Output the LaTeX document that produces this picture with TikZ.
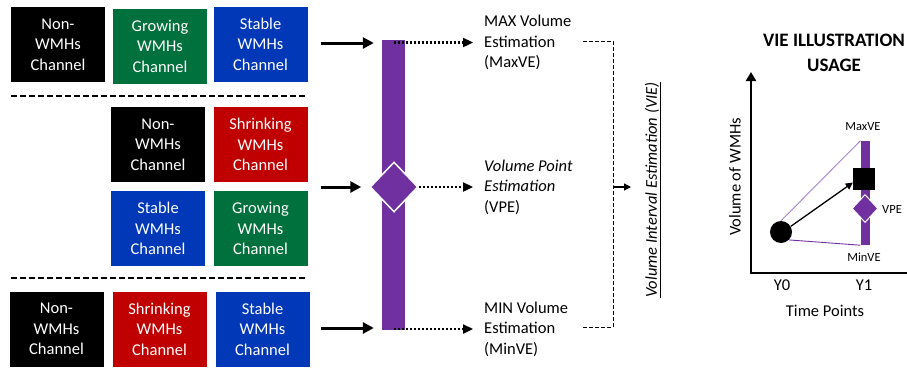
\documentclass[tikz,border=0pt]{standalone}
\usepackage{fontspec}
\setmainfont{Carlito}
\usepackage{xcolor}
\usepackage{tikz}
\usetikzlibrary{positioning, shapes.geometric, arrows.meta}
\definecolor{wmhgreen}{HTML}{00703C}
\definecolor{wmhblue}{HTML}{0038B8}
\definecolor{wmhred}{HTML}{C00000}
\definecolor{viepurple}{HTML}{7030A0}
\definecolor{lightpurple}{HTML}{A683CF}

\begin{document}
\begin{tikzpicture}[x=1pt,y=-1pt]
						\useasboundingbox (0,0) rectangle (907,367);
						\tikzstyle{chan}=[rectangle, minimum width=94pt, minimum height=75pt, inner sep=0pt, text=white, align=center, font=\fontsize{16.5}{20.5}\selectfont]
						\tikzstyle{feed}=[line width=3pt, -{Triangle[length=11pt,width=11pt]}, shorten >=8pt]
						\tikzstyle{est}=[line width=2.3pt, dash pattern=on 2pt off 2pt, -{Triangle[length=10pt,width=9pt]}]
						\tikzstyle{estim}=[anchor=west, inner xsep=11pt, align=left, font=\fontsize{16.5}{20.5}\selectfont]
						\tikzstyle{sep}=[line width=2pt, dash pattern=on 6pt off 3pt]
						\tikzstyle{small}=[font=\fontsize{12.5}{14}\selectfont]
						\tikzstyle{lab}=[font=\fontsize{16.5}{19}\selectfont]
						% input channels, one group per row
						\node[chan, fill=black](nw1) at (58,44.5) {Non-\\WMHs\\Channel};
						\node[chan, fill=wmhgreen](gw1) at (160,46) {Growing\\WMHs\\Channel};
						\node[chan, fill=wmhblue](st1) at (260.5,44) {Stable\\WMHs\\Channel};
						\node[chan, fill=black](nw2) at (158,144.5) {Non-\\WMHs\\Channel};
						\node[chan, fill=wmhred](sh2) at (260.5,144.5) {Shrinking\\WMHs\\Channel};
						\node[chan, fill=wmhblue](st2) at (158,228.5) {Stable\\WMHs\\Channel};
						\node[chan, fill=wmhgreen](gw2) at (260.5,228.5) {Growing\\WMHs\\Channel};
						\node[chan, fill=black](nw3) at (56.5,329) {Non-\\WMHs\\Channel};
						\node[chan, fill=wmhred](sh3) at (159.5,329) {Shrinking\\WMHs\\Channel};
						\node[chan, fill=wmhblue](st3) at (262.5,329) {Stable\\WMHs\\Channel};
						\draw[sep] (11,96) -- (307,96);
						\draw[sep] (11,278) -- (307,278);
						% estimation bar and point
						\node[rectangle, fill=viepurple, minimum width=23pt, minimum height=290pt, inner sep=0pt](bar) at (393.5,185) {};
						\node[diamond, fill=viepurple, draw=white, line width=1.5pt, minimum width=48pt, minimum height=50pt, inner sep=0pt](pt) at (394,187) {};
						\coordinate (in1) at (321,43);
						\coordinate (in2) at (321,187);
						\coordinate (in3) at (321,328);
						\draw[feed] (in1) -- (bar.west |- in1);
						\draw[feed] (in2) -- (pt.west);
						\draw[feed] (in3) -- (bar.west |- in3);
						\node[estim](maxve) at (473,42.5) {MAX Volume\\Estimation\\(MaxVE)};
						\node[estim](vpe) at (473,187) {\textit{Volume Point}\\\textit{Estimation}\\(VPE)};
						\node[estim](minve) at (473,329) {MIN Volume\\Estimation\\(MinVE)};
						\draw[est] (bar.center |- maxve.west) -- (maxve.west);
						\draw[est] (pt.east) -- (vpe.west);
						\draw[est] (bar.center |- minve.west) -- (minve.west);
						% interval bracket
						\coordinate (bt) at (583,41);
						\coordinate (bb) at (583,327);
						\coordinate (jn) at (613,187);
						\draw[line width=1pt, dash pattern=on 4pt off 2pt] (bt) -| (jn) |- (bb);
						\node[rotate=90, font=\fontsize{16.5}{19}\selectfont\itshape](vie) at (653,190) {\underline{Volume Interval Estimation (VIE)}};
						\draw[line width=1.2pt, -{Triangle[length=7pt,width=7pt]}] (jn) -- (631,187);
						% illustration chart
						\node[font=\fontsize{19}{25}\selectfont\bfseries, align=center](title) at (834,53) {VIE ILLUSTRATION\\USAGE};
						\coordinate (o) at (751,273);
						\coordinate (ytop) at (751,72);
						\coordinate (xend) at (907,273);
						\draw[line width=2.5pt, {Triangle[length=9pt,width=10pt]}-] (ytop) -- (o) -- (xend);
						\node[lab, rotate=90](ylab) at (735,177) {Volume of WMHs};
						\node[lab](y0) at (782,285) {Y0};
						\node[lab](y1) at (864,285) {Y1};
						\node[lab](xlab) at (825,311) {Time Points};
						\node[rectangle, fill=viepurple, minimum width=9pt, minimum height=104pt, inner sep=0pt](vbar) at (865,193) {};
						\node[circle, fill=black, minimum size=22pt, inner sep=0pt](c0) at (781,232) {};
						\node[rectangle, fill=black, minimum size=22pt, inner sep=0pt](sq) at (864,178.5) {};
						\node[diamond, fill=viepurple, draw=white, line width=1pt, minimum width=26pt, minimum height=28pt, inner sep=0pt](dm) at (865,208.5) {};
						\draw[lightpurple, line width=0.9pt] (c0.north) -- (vbar.north west);
						\draw[viepurple, line width=0.9pt] (c0.south east) -- (vbar.south west);
						\draw[line width=1.3pt, -{Triangle[length=7pt,width=7pt]}] (c0.30) -- (sq.200);
						\node[small](mx) at (863,127) {MaxVE};
						\node[small, anchor=west, inner xsep=1pt](vp) at (881,209) {VPE};
						\node[small](mn) at (864,257) {MinVE};
					\end{tikzpicture}
\end{document}
